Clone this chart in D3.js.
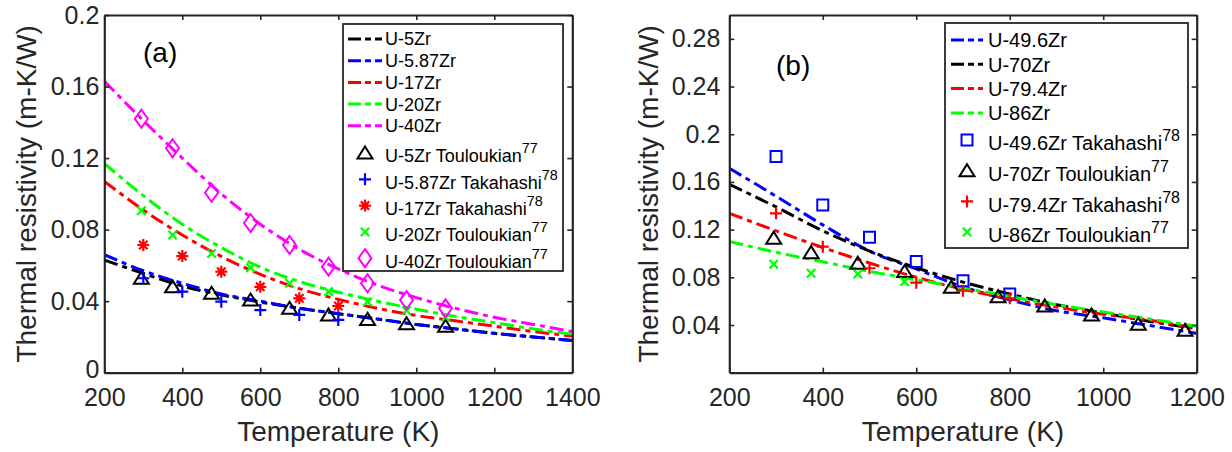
<!DOCTYPE html>
<html>
<head>
<meta charset="utf-8">
<script src="https://cdn.jsdelivr.net/npm/d3@7"></script>
<style>
  html, body { margin: 0; padding: 0; background: #fff; }
  svg { display: block; font-family: "Liberation Sans", Arial, Helvetica, sans-serif; }
</style>
</head>
<body>
<svg id="chart" width="1232" height="452"></svg>
<script>
// ---------------- DATA ----------------
// Panel (a)
const tempsA = [200, 300, 400, 500, 600, 700, 800, 900, 1000, 1100, 1200, 1300, 1400];
const fitU5Zr    = [0.063, 0.0555, 0.0485, 0.0435, 0.0395, 0.036, 0.033, 0.030, 0.027, 0.0245, 0.022, 0.020, 0.018];
const fitU587Zr  = [0.066, 0.057, 0.050, 0.044, 0.040, 0.036, 0.033, 0.030, 0.027, 0.0245, 0.022, 0.020, 0.018];
const fitU17Zr   = [0.107, 0.091, 0.077, 0.065, 0.055, 0.047, 0.041, 0.036, 0.032, 0.029, 0.026, 0.023, 0.0205];
const fitU20Zr   = [0.117, 0.099, 0.083, 0.070, 0.059, 0.051, 0.045, 0.040, 0.0355, 0.0315, 0.028, 0.0245, 0.0215];
const fitU40Zr   = [0.163, 0.141, 0.120, 0.100, 0.083, 0.069, 0.058, 0.049, 0.042, 0.036, 0.031, 0.027, 0.023];

const touloukianTempsA = [295, 375, 475, 575, 675, 775, 875, 975, 1075];
const expU5Zr   = [0.0528, 0.048, 0.0444, 0.0406, 0.036, 0.0323, 0.0298, 0.0274, 0.026];
const takahashiTempsA = [300, 400, 500, 600, 700, 800];
const expU587Zr = [0.0528, 0.0453, 0.0397, 0.035, 0.0323, 0.0295];
const expU17Zr  = [0.0714, 0.0652, 0.0565, 0.048, 0.0416, 0.0373];
const expU20Zr  = [0.0906, 0.077, 0.0667, 0.0587, 0.050, 0.0453, 0.0397, 0.0347, 0.031];
const expU40Zr  = [0.142, 0.1255, 0.1006, 0.0837, 0.0714, 0.0593, 0.050, 0.0406, 0.036];

const xTicksA = [200, 400, 600, 800, 1000, 1200, 1400];
const yTicksA = [0, 0.04, 0.08, 0.12, 0.16, 0.2];
const yTickLabelsA = ["0", "0.04", "0.08", "0.12", "0.16", "0.2"];

// Panel (b)
const tempsB = [200, 300, 400, 500, 600, 700, 800, 900, 1000, 1100, 1200];
const fitU496Zr = [0.1715, 0.148, 0.124, 0.102, 0.087, 0.072, 0.061, 0.052, 0.046, 0.0395, 0.033];
const fitU70Zr  = [0.158, 0.139, 0.119, 0.102, 0.088, 0.076, 0.066, 0.057, 0.050, 0.043, 0.037];
const fitU794Zr = [0.1337, 0.119, 0.105, 0.092, 0.080, 0.070, 0.062, 0.055, 0.049, 0.044, 0.037];
const fitU86Zr  = [0.110, 0.101, 0.093, 0.085, 0.078, 0.071, 0.064, 0.057, 0.051, 0.045, 0.039];

const takahashiTempsB = [300, 400, 500, 600, 700, 800];
const expU496Zr = [0.1813, 0.1407, 0.1136, 0.0932, 0.0772, 0.066];
const expU794Zr = [0.1337, 0.1057, 0.0876, 0.0755, 0.0688, 0.0624];
const touloukianTempsB = [295, 375, 475, 575, 675, 775, 875, 975, 1075, 1175];
const expU70Zr  = [0.1128, 0.1007, 0.0918, 0.0848, 0.0717, 0.0638, 0.056, 0.0484, 0.0407, 0.0355];
const touloukianTempsB86 = [295, 375, 475, 575];
const expU86Zr  = [0.091, 0.0834, 0.0828, 0.0764];

const xTicksB = [200, 400, 600, 800, 1000, 1200];
const yTicksB = [0.04, 0.08, 0.12, 0.16, 0.2, 0.24, 0.28];
const yTickLabelsB = ["0.04", "0.08", "0.12", "0.16", "0.2", "0.24", "0.28"];

// ---------------- DRAWING ----------------
const svg = d3.select("#chart");
const axisColor = "#262626";

const markerPaths = {
  triangle: "M0,-6.5 L7.5,5.5 L-7.5,5.5 Z",
  diamond: "M0,-9 L6.5,0 L0,9 L-6.5,0 Z",
  square: "M-5.5,-5.5 H5.5 V5.5 H-5.5 Z",
  plus: "M-6,0 H6 M0,-6 V6",
  cross: "M-4.2,-4.2 L4.2,4.2 M-4.2,4.2 L4.2,-4.2",
  asterisk: "M-6,0 H6 M0,-6 V6 M-4.2,-4.2 L4.2,4.2 M-4.2,4.2 L4.2,-4.2"
};

function drawPanel(cfg) {
  const g = svg.append("g");
  const x = d3.scaleLinear().domain(cfg.xDomain).range([cfg.left, cfg.right]);
  const y = d3.scaleLinear().domain(cfg.yDomain).range([cfg.bottom, cfg.top]);

  const clipId = "clip-" + cfg.id;
  svg.append("defs").append("clipPath").attr("id", clipId)
    .append("rect").attr("x", cfg.left).attr("y", cfg.top)
    .attr("width", cfg.right - cfg.left).attr("height", cfg.bottom - cfg.top);

  const plot = g.append("g").attr("clip-path", `url(#${clipId})`);
  const line = d3.line().x(d => x(d[0])).y(d => y(d[1])).curve(d3.curveMonotoneX);

  cfg.fits.forEach(f => {
    plot.append("path")
      .datum(cfg.fitTemps.map((t, i) => [t, f.values[i]]))
      .attr("d", line)
      .attr("fill", "none")
      .attr("stroke", f.color)
      .attr("stroke-width", 3)
      .attr("stroke-dasharray", "14,5,5,5");
  });

  cfg.points.forEach(p => {
    plot.selectAll(null)
      .data(p.temps.map((t, i) => [t, p.values[i]]))
      .enter().append("path")
      .attr("transform", d => `translate(${x(d[0])},${y(d[1])})`)
      .attr("d", markerPaths[p.marker])
      .attr("fill", "none")
      .attr("stroke", p.color)
      .attr("stroke-width", p.sw || 2);
  });

  // axes
  const fmtY = d => cfg.yLabels[cfg.yTicks.indexOf(d)];
  const axB = d3.axisBottom(x).tickValues(cfg.xTicks).tickSizeInner(-5).tickSizeOuter(0).tickPadding(16).tickFormat(d3.format("d"));
  const axL = d3.axisLeft(y).tickValues(cfg.yTicks).tickSizeInner(-5).tickSizeOuter(0).tickPadding(cfg.yPad).tickFormat(fmtY);
  const axT = d3.axisTop(x).tickValues(cfg.xTicks).tickSizeInner(-5).tickSizeOuter(0).tickFormat("");
  const axR = d3.axisRight(y).tickValues(cfg.yTicks).tickSizeInner(-5).tickSizeOuter(0).tickFormat("");

  const gb = g.append("g").attr("transform", `translate(0,${cfg.bottom})`).call(axB);
  const gl = g.append("g").attr("transform", `translate(${cfg.left},0)`).call(axL);
  const gt = g.append("g").attr("transform", `translate(0,${cfg.top})`).call(axT);
  const gr = g.append("g").attr("transform", `translate(${cfg.right},0)`).call(axR);
  [gb, gl, gt, gr].forEach(a => {
    a.select(".domain").attr("stroke", axisColor).attr("stroke-width", 2.2);
    a.selectAll(".tick line").attr("stroke", axisColor).attr("stroke-width", 1.6);
    a.selectAll(".tick text").attr("fill", axisColor).attr("font-size", 25)
      .attr("font-family", '"Liberation Sans", Arial, Helvetica, sans-serif');
  });
  // nudge the "0" label up slightly so it clears the x tick labels
  gl.selectAll(".tick text").filter(d => d === 0).attr("dy", "0.2em");

  // axis titles
  g.append("text")
    .attr("x", (cfg.left + cfg.right) / 2).attr("y", 441)
    .attr("text-anchor", "middle").attr("font-size", 28).attr("fill", axisColor)
    .text("Temperature (K)");
  g.append("text")
    .attr("transform", `translate(${cfg.yTitleX},${(cfg.top + cfg.bottom) / 2}) rotate(-90)`)
    .attr("text-anchor", "middle").attr("font-size", 28).attr("fill", axisColor)
    .text("Thermal resistivity (m-K/W)");

  // panel label
  g.append("text").attr("x", cfg.tagX).attr("y", cfg.tagY)
    .attr("font-size", 28).attr("fill", "#000").text(cfg.tag);

  // legend
  const L = cfg.legend;
  g.append("rect").attr("x", L.x0).attr("y", L.y0).attr("width", L.x1 - L.x0).attr("height", L.y1 - L.y0)
    .attr("fill", "#fff").attr("stroke", axisColor).attr("stroke-width", 1.8);
  cfg.fits.forEach((f, i) => {
    const yy = L.lineRow0 + i * L.lineStep;
    g.append("line").attr("x1", L.sx0).attr("x2", L.sx1).attr("y1", yy).attr("y2", yy)
      .attr("stroke", f.color).attr("stroke-width", 3).attr("stroke-dasharray", "13,4,6,4");
    g.append("text").attr("x", L.tx).attr("y", yy + L.fs * 0.36)
      .attr("font-size", L.fs).attr("fill", "#000").text(f.name);
  });
  cfg.points.forEach((p, i) => {
    const yy = L.markRow0 + i * L.markStep;
    g.append("path").attr("transform", `translate(${L.mx},${yy})`).attr("d", markerPaths[p.marker])
      .attr("fill", "none").attr("stroke", p.color).attr("stroke-width", p.sw || 2);
    const t = g.append("text").attr("x", L.tx).attr("y", yy + L.fs * 0.36 + 3)
      .attr("font-size", L.fs).attr("fill", "#000");
    t.append("tspan").text(p.name);
    t.append("tspan").attr("dy", -9).attr("font-size", L.fs * 0.8).text(p.ref);
  });
}

drawPanel({
  id: "a", tag: "(a)", tagX: 143, tagY: 62,
  left: 104.3, right: 572.3, top: 15, bottom: 372.7,
  xDomain: [200, 1400], yDomain: [0, 0.2],
  xTicks: xTicksA, yTicks: yTicksA, yLabels: yTickLabelsA, yPad: 5, yTitleX: 36,
  fitTemps: tempsA,
  fits: [
    { name: "U-5Zr", color: "#000000", values: fitU5Zr },
    { name: "U-5.87Zr", color: "#0000ff", values: fitU587Zr },
    { name: "U-17Zr", color: "#ff0000", values: fitU17Zr },
    { name: "U-20Zr", color: "#00ff00", values: fitU20Zr },
    { name: "U-40Zr", color: "#ff00ff", values: fitU40Zr }
  ],
  points: [
    { name: "U-5Zr Touloukian", ref: "77", color: "#000000", marker: "triangle", temps: touloukianTempsA, values: expU5Zr },
    { name: "U-5.87Zr Takahashi", ref: "78", color: "#0000ff", marker: "plus", temps: takahashiTempsA, values: expU587Zr, sw: 2.2 },
    { name: "U-17Zr Takahashi", ref: "78", color: "#ff0000", marker: "asterisk", temps: takahashiTempsA, values: expU17Zr, sw: 2.2 },
    { name: "U-20Zr Touloukian", ref: "77", color: "#00ff00", marker: "cross", temps: touloukianTempsA, values: expU20Zr, sw: 2.2 },
    { name: "U-40Zr Touloukian", ref: "77", color: "#ff00ff", marker: "diamond", temps: touloukianTempsA, values: expU40Zr }
  ],
  legend: { x0: 343, y0: 24, x1: 563, y1: 271, sx0: 348, sx1: 382, tx: 385, mx: 365,
            lineRow0: 39, lineStep: 21.7, markRow0: 153, markStep: 26.3, fs: 18 }
});

drawPanel({
  id: "b", tag: "(b)", tagX: 776, tagY: 75,
  left: 729.3, right: 1196.7, top: 15, bottom: 372.7,
  xDomain: [200, 1200], yDomain: [0, 0.3],
  xTicks: xTicksB, yTicks: yTicksB, yLabels: yTickLabelsB, yPad: 9, yTitleX: 658,
  fitTemps: tempsB,
  fits: [
    { name: "U-49.6Zr", color: "#0000ff", values: fitU496Zr },
    { name: "U-70Zr", color: "#000000", values: fitU70Zr },
    { name: "U-79.4Zr", color: "#ff0000", values: fitU794Zr },
    { name: "U-86Zr", color: "#00ff00", values: fitU86Zr }
  ],
  points: [
    { name: "U-49.6Zr Takahashi", ref: "78", color: "#0000ff", marker: "square", temps: takahashiTempsB, values: expU496Zr },
    { name: "U-70Zr Touloukian", ref: "77", color: "#000000", marker: "triangle", temps: touloukianTempsB, values: expU70Zr },
    { name: "U-79.4Zr Takahashi", ref: "78", color: "#ff0000", marker: "plus", temps: takahashiTempsB, values: expU794Zr, sw: 2.2 },
    { name: "U-86Zr Touloukian", ref: "77", color: "#00ff00", marker: "cross", temps: touloukianTempsB86, values: expU86Zr, sw: 2.2 }
  ],
  legend: { x0: 945, y0: 23, x1: 1188, y1: 248, sx0: 951, sx1: 983, tx: 988, mx: 967,
            lineRow0: 40, lineStep: 24.3, markRow0: 140, markStep: 30.7, fs: 20 }
});
</script>
</body>
</html>
